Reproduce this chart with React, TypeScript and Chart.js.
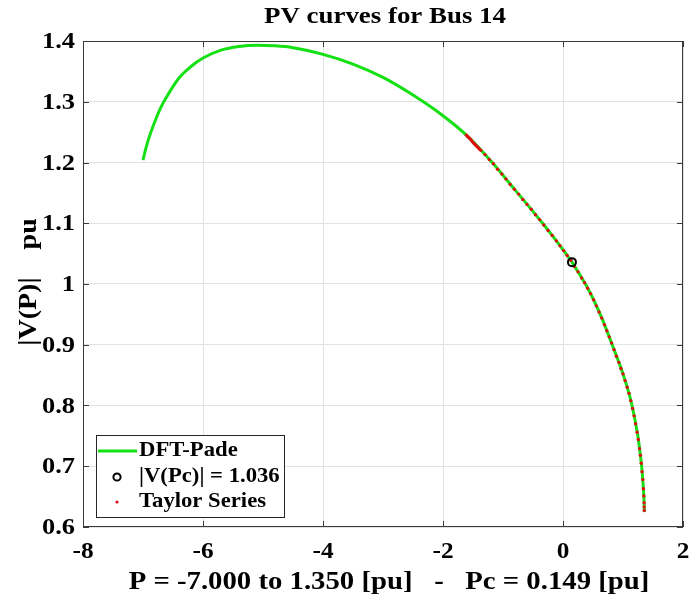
import React, { useEffect, useRef } from 'react';
import { Chart, registerables } from 'chart.js';

Chart.register(...registerables);

// DFT-Pade PV curve (P in pu, |V| in pu)
const pvP = [-7.0, -6.95, -6.9, -6.8, -6.7, -6.6, -6.4, -6.2, -6.0, -5.7, -5.4, -5.1, -4.8, -4.5, -4.0, -3.5, -3.0, -2.5, -2.0, -1.61, -1.18, -0.8, -0.34, 0.0, 0.149, 0.39, 0.52, 0.66, 0.82, 1.0, 1.1, 1.15, 1.2, 1.25, 1.29, 1.31, 1.33, 1.345, 1.352, 1.355];
const pvV = [1.204, 1.224, 1.241, 1.268, 1.291, 1.309, 1.339, 1.358, 1.372, 1.385, 1.391, 1.393, 1.392, 1.389, 1.378, 1.362, 1.340, 1.311, 1.277, 1.245, 1.2, 1.155, 1.1, 1.0565, 1.036, 0.997, 0.972, 0.941, 0.9, 0.852, 0.82, 0.8, 0.776, 0.748, 0.718, 0.7, 0.678, 0.655, 0.64, 0.625];

// Taylor series points
const taylorP = [-1.61, -1.59, -1.57, -1.55, -1.53, -1.51, -1.49, -1.47, -1.45, -1.43, -1.41, -1.39, -1.37, -1.30, -1.23, -1.16, -1.09, -1.02, -0.95, -0.88, -0.81, -0.74, -0.67, -0.60, -0.53, -0.46, -0.39, -0.32, -0.25, -0.18, -0.11, -0.05, 0.01, 0.07, 0.13, 0.19, 0.25, 0.31, 0.36, 0.41, 0.46, 0.51, 0.555, 0.60, 0.645, 0.69, 0.73, 0.77, 0.81, 0.85, 0.89, 0.93, 0.965, 1.0, 1.035, 1.07, 1.10, 1.13, 1.16, 1.185, 1.21, 1.235, 1.255, 1.275, 1.29, 1.305, 1.318, 1.33, 1.34, 1.347, 1.352, 1.354, 1.355];
const taylorV = [1.245, 1.243, 1.241, 1.239, 1.237, 1.234, 1.232, 1.230, 1.228, 1.226, 1.224, 1.222, 1.220, 1.213, 1.205, 1.198, 1.189, 1.181, 1.173, 1.164, 1.156, 1.148, 1.139, 1.131, 1.123, 1.114, 1.106, 1.097, 1.088, 1.080, 1.071, 1.063, 1.055, 1.047, 1.039, 1.029, 1.020, 1.010, 1.002, 0.993, 0.984, 0.974, 0.964, 0.954, 0.944, 0.933, 0.923, 0.913, 0.903, 0.892, 0.881, 0.871, 0.861, 0.852, 0.841, 0.830, 0.820, 0.808, 0.795, 0.783, 0.770, 0.756, 0.744, 0.729, 0.718, 0.705, 0.691, 0.678, 0.663, 0.651, 0.640, 0.633, 0.627];

// Critical point
const pcP = [0.149];
const pcV = [1.036];

const xTicks = [-8, -6, -4, -2, 0, 2];
const yTicks = [0.6, 0.7, 0.8, 0.9, 1.0, 1.1, 1.2, 1.3, 1.4];

const titleText = 'PV curves for Bus 14';
const xTitle = 'P = -7.000 to 1.350 [pu]   -   Pc = 0.149 [pu]';
const yTitle = '|V(P)|    pu';
const legendLabels = ['DFT-Pade', '|V(Pc)| = 1.036', 'Taylor Series'];

const GREEN = '#14e014';
const RED = '#e01010';
const FONT = '"Liberation Serif", "Times New Roman", serif';

function drawText(ctx: CanvasRenderingContext2D, text: string, x: number, y: number, size: number, align: CanvasTextAlign, sx = 1.12, rot = 0) {
  ctx.save();
  ctx.translate(x, y);
  if (rot) ctx.rotate(rot);
  ctx.scale(sx, 1);
  ctx.font = `bold ${size}px ${FONT}`;
  ctx.textAlign = align;
  ctx.textBaseline = 'middle';
  ctx.fillStyle = '#000';
  ctx.fillText(text, 0, 0);
  ctx.restore();
}

const decorPlugin = {
  id: 'decor',
  afterDraw(chart: any) {
    const ctx: CanvasRenderingContext2D = chart.ctx;
    const ca = chart.chartArea;
    const xs = chart.scales.x;
    const ys = chart.scales.y;
    ctx.save();
    // box
    ctx.strokeStyle = '#3a3a3a';
    ctx.lineWidth = 1;
    ctx.strokeRect(ca.left + 0.5, ca.top + 0.5, ca.right - ca.left - 1, ca.bottom - ca.top - 1);
    // inward ticks
    ctx.beginPath();
    xTicks.forEach((v) => {
      const px = Math.round(xs.getPixelForValue(v)) + 0.5;
      ctx.moveTo(px, ca.bottom);
      ctx.lineTo(px, ca.bottom - 6);
      ctx.moveTo(px, ca.top);
      ctx.lineTo(px, ca.top + 6);
    });
    yTicks.forEach((v) => {
      const py = Math.round(ys.getPixelForValue(v)) + 0.5;
      ctx.moveTo(ca.left, py);
      ctx.lineTo(ca.left + 6, py);
      ctx.moveTo(ca.right, py);
      ctx.lineTo(ca.right - 6, py);
    });
    ctx.stroke();
    // tick labels
    xTicks.forEach((v) => {
      drawText(ctx, String(v), xs.getPixelForValue(v), ca.bottom + 25, 23, 'center', 1.1);
    });
    yTicks.forEach((v) => {
      const s = Number(v.toFixed(1)).toString();
      drawText(ctx, s, ca.left - 8, ys.getPixelForValue(v) + 1, 24, 'right', 1.1);
    });
    // titles
    drawText(ctx, titleText, (ca.left + ca.right) / 2 + 2, 17, 24, 'center', 1.12);
    drawText(ctx, xTitle, (ca.left + ca.right) / 2 + 6, ca.bottom + 56, 25, 'center', 1.15);
    drawText(ctx, yTitle, 30, (ca.top + ca.bottom) / 2 - 2, 25, 'center', 1.12, -Math.PI / 2);

    // legend
    const lx = ca.left + 13;
    const ly = ca.bottom - 92;
    const lw = 188;
    const lh = 82;
    ctx.fillStyle = '#ffffff';
    ctx.fillRect(lx, ly, lw, lh);
    ctx.strokeStyle = '#262626';
    ctx.lineWidth = 1;
    ctx.strokeRect(lx + 0.5, ly + 0.5, lw, lh);
    const rows = [ly + 16, ly + 42, ly + 67];
    ctx.strokeStyle = GREEN;
    ctx.lineWidth = 3;
    ctx.beginPath();
    ctx.moveTo(lx + 2, rows[0]);
    ctx.lineTo(lx + 41, rows[0]);
    ctx.stroke();
    ctx.strokeStyle = '#000';
    ctx.lineWidth = 2;
    ctx.beginPath();
    ctx.arc(lx + 21, rows[1], 3.6, 0, Math.PI * 2);
    ctx.stroke();
    ctx.fillStyle = RED;
    ctx.beginPath();
    ctx.arc(lx + 21, rows[2], 1.6, 0, Math.PI * 2);
    ctx.fill();
    legendLabels.forEach((t, i) => drawText(ctx, t, lx + 43, rows[i], 21, 'left', 1.08));
    ctx.restore();
  },
};

export default function App() {
  const ref = useRef<HTMLCanvasElement | null>(null);
  useEffect(() => {
    document.body.style.margin = '0';
    const canvas = ref.current;
    if (!canvas) return;
    const chart = new Chart(canvas, {
      type: 'scatter',
      data: {
        datasets: [
          {
            label: legendLabels[1],
            data: pcP.map((p, i) => ({ x: p, y: pcV[i] })),
            pointRadius: 4,
            pointBorderWidth: 2,
            pointBorderColor: '#000',
            pointBackgroundColor: 'rgba(0,0,0,0)',
            showLine: false,
            order: 0,
          },
          {
            label: legendLabels[2],
            data: taylorP.map((p, i) => ({ x: p, y: taylorV[i] })),
            pointRadius: 1.7,
            pointBorderWidth: 0,
            pointBackgroundColor: RED,
            showLine: false,
            order: 1,
          },
          {
            label: legendLabels[0],
            data: pvP.map((p, i) => ({ x: p, y: pvV[i] })),
            showLine: true,
            borderColor: GREEN,
            borderWidth: 3,
            pointRadius: 0,
            cubicInterpolationMode: 'monotone',
            fill: false,
            order: 2,
          },
        ],
      } as any,
      options: {
        responsive: false,
        animation: false,
        layout: { padding: { top: 41, right: 5, left: 0, bottom: 0 } },
        plugins: { legend: { display: false }, tooltip: { enabled: false }, title: { display: false } },
        scales: {
          x: {
            type: 'linear',
            min: -8,
            max: 2,
            afterBuildTicks: (s: any) => { s.ticks = xTicks.map((v) => ({ value: v })); },
            afterFit: (s: any) => { s.height = 74; s.paddingLeft = 0; s.paddingRight = 0; },
            ticks: { display: false },
            grid: { color: '#e2e2e2', drawTicks: false, lineWidth: 1 },
            border: { display: false },
          },
          y: {
            type: 'linear',
            min: 0.6,
            max: 1.4,
            afterBuildTicks: (s: any) => { s.ticks = yTicks.map((v) => ({ value: v })); },
            afterFit: (s: any) => { s.width = 83; s.paddingTop = 0; s.paddingBottom = 0; },
            ticks: { display: false },
            grid: { color: '#e2e2e2', drawTicks: false, lineWidth: 1 },
            border: { display: false },
          },
        },
      } as any,
      plugins: [decorPlugin],
    });
    return () => chart.destroy();
  }, []);
  return <canvas ref={ref} width={689} height={601} style={{ display: 'block' }} />;
}
